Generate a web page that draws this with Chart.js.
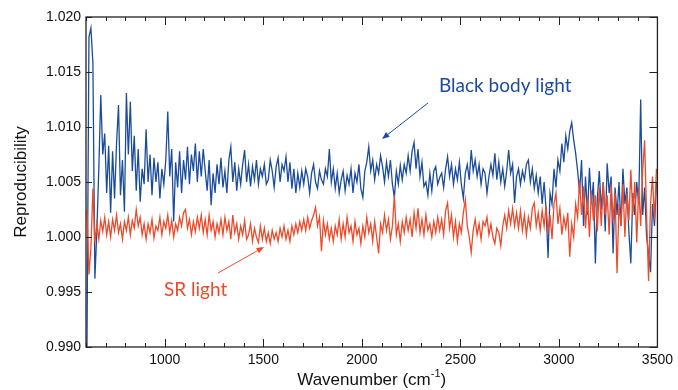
<!DOCTYPE html>
<html>
<head>
<meta charset="utf-8">
<script src="https://cdn.jsdelivr.net/npm/chart.js@4.4.1/dist/chart.umd.min.js"></script>
<style>
  html, body { margin: 0; padding: 0; background: #fff; }
  #chart { display: block; }
</style>
</head>
<body>
<canvas id="chart" width="678" height="390"></canvas>
<script>

// wavenumber axis (cm-1), one row per 100 cm-1
var wavenumber = [
	605,615,625,635,645,655,665,675,685,695,
	705,715,725,735,745,755,765,775,785,795,
	805,815,825,835,845,855,865,875,885,895,
	905,915,925,935,945,955,965,975,985,995,
	1005,1015,1025,1035,1045,1055,1065,1075,1085,1095,
	1105,1115,1125,1135,1145,1155,1165,1175,1185,1195,
	1205,1215,1225,1235,1245,1255,1265,1275,1285,1295,
	1305,1315,1325,1335,1345,1355,1365,1375,1385,1395,
	1405,1415,1425,1435,1445,1455,1465,1475,1485,1495,
	1505,1515,1525,1535,1545,1555,1565,1575,1585,1595,
	1605,1615,1625,1635,1645,1655,1665,1675,1685,1695,
	1705,1715,1725,1735,1745,1755,1765,1775,1785,1795,
	1805,1815,1825,1835,1845,1855,1865,1875,1885,1895,
	1905,1915,1925,1935,1945,1955,1965,1975,1985,1995,
	2005,2015,2025,2035,2045,2055,2065,2075,2085,2095,
	2105,2115,2125,2135,2145,2155,2165,2175,2185,2195,
	2205,2215,2225,2235,2245,2255,2265,2275,2285,2295,
	2305,2315,2325,2335,2345,2355,2365,2375,2385,2395,
	2405,2415,2425,2435,2445,2455,2465,2475,2485,2495,
	2505,2515,2525,2535,2545,2555,2565,2575,2585,2595,
	2605,2615,2625,2635,2645,2655,2665,2675,2685,2695,
	2705,2715,2725,2735,2745,2755,2765,2775,2785,2795,
	2805,2815,2825,2835,2845,2855,2865,2875,2885,2895,
	2905,2915,2925,2935,2945,2955,2965,2975,2985,2995,
	3005,3015,3025,3035,3045,3055,3065,3075,3085,3095,
	3105,3115,3125,3135,3145,3155,3165,3175,3185,3195,
	3205,3215,3225,3235,3245,3255,3265,3275,3285,3295,
	3305,3315,3325,3335,3345,3355,3365,3375,3385,3395,
	3405,3415,3425,3435,3445,3455,3465,3475,3485,3495
];

// Black body light
var blackBody = [
	0.9900,1.0182,1.0190,1.0158,0.9962,1.0005,1.0062,1.0129,1.0075,1.0094,
	1.0040,1.0083,1.0022,1.0078,1.0035,1.0085,1.0120,1.0038,1.0070,1.0023,
	1.0131,1.0075,1.0123,1.0060,1.0092,1.0042,1.0080,1.0032,1.0062,1.0048,
	1.0098,1.0050,1.0075,1.0038,1.0072,1.0050,1.0068,1.0035,1.0062,1.0048,
	1.0070,1.0114,1.0055,1.0080,1.0014,1.0068,1.0045,1.0078,1.0040,1.0070,
	1.0052,1.0082,1.0048,1.0075,1.0060,1.0085,1.0050,1.0078,1.0055,1.0080,
	1.0060,1.0042,1.0070,1.0029,1.0058,1.0040,1.0066,1.0048,1.0072,1.0045,
	1.0060,1.0040,1.0070,1.0082,1.0050,1.0068,1.0042,1.0062,1.0048,1.0066,
	1.0079,1.0050,1.0066,1.0046,1.0064,1.0052,1.0070,1.0048,1.0062,1.0055,
	1.0066,1.0048,1.0052,1.0070,1.0060,1.0045,1.0064,1.0072,1.0050,1.0066,
	1.0060,1.0073,1.0050,1.0068,1.0044,1.0062,1.0040,1.0058,1.0045,1.0060,
	1.0048,1.0062,1.0055,1.0040,1.0058,1.0066,1.0050,1.0044,1.0060,1.0052,
	1.0048,1.0062,1.0055,1.0080,1.0050,1.0062,1.0044,1.0058,1.0040,1.0052,
	1.0060,1.0042,1.0056,1.0048,1.0062,1.0040,1.0058,1.0050,1.0066,1.0044,
	1.0036,1.0060,1.0068,1.0082,1.0060,1.0070,1.0052,1.0066,1.0058,1.0074,
	1.0064,1.0050,1.0068,1.0055,1.0070,1.0048,1.0036,1.0060,1.0048,1.0065,
	1.0052,1.0066,1.0058,1.0074,1.0060,1.0078,1.0086,1.0062,1.0080,1.0055,
	1.0068,1.0046,1.0050,1.0038,1.0058,1.0042,1.0060,1.0064,1.0048,1.0054,
	1.0058,1.0045,1.0062,1.0073,1.0055,1.0066,1.0048,1.0062,1.0052,1.0068,
	1.0048,1.0035,1.0058,1.0066,1.0052,1.0079,1.0060,1.0070,1.0055,1.0066,
	1.0048,1.0062,1.0058,1.0040,1.0055,1.0066,1.0056,1.0076,1.0052,1.0068,
	1.0050,1.0062,1.0046,1.0060,1.0079,1.0058,1.0066,1.0031,1.0055,1.0062,
	1.0048,1.0060,1.0052,1.0066,1.0070,1.0050,1.0062,1.0044,1.0056,1.0040,
	1.0055,1.0030,1.0050,1.0025,0.9981,1.0040,1.0030,1.0062,1.0045,1.0070,
	1.0060,1.0085,1.0068,1.0092,1.0080,1.0096,1.0104,1.0088,1.0076,1.0060,
	1.0040,1.0070,1.0010,1.0055,1.0020,1.0063,1.0030,1.0050,0.9976,1.0035,
	1.0060,1.0025,1.0050,1.0005,1.0067,1.0040,1.0055,0.9985,1.0045,1.0020,
	1.0050,1.0010,1.0062,1.0030,1.0045,1.0005,0.9976,1.0040,1.0020,1.0050,
	1.0030,1.0125,1.0020,1.0045,1.0000,0.9985,0.9968,1.0030,1.0010,1.0050
];

// SR light
var srLight = [
	1.0025,0.9966,0.9990,1.0044,0.9995,1.0012,0.9998,1.0015,1.0005,1.0018,
	1.0002,1.0014,1.0000,1.0016,1.0006,1.0020,1.0004,1.0012,0.9998,1.0014,
	1.0006,1.0018,1.0002,1.0015,1.0008,1.0025,1.0010,1.0018,1.0002,1.0012,
	0.9998,1.0012,1.0004,1.0016,0.9999,1.0010,1.0006,1.0018,1.0002,1.0014,
	1.0008,1.0020,1.0004,1.0015,1.0000,1.0012,1.0006,1.0018,1.0010,1.0022,
	1.0025,1.0008,1.0016,1.0002,1.0014,1.0005,1.0018,1.0008,1.0020,1.0004,
	1.0016,1.0002,1.0020,1.0006,1.0014,1.0000,1.0012,1.0004,1.0016,1.0002,
	1.0018,1.0006,1.0014,0.9998,1.0020,1.0004,1.0012,0.9998,1.0010,1.0002,
	1.0015,0.9998,1.0002,1.0012,0.9996,1.0008,1.0000,0.9995,1.0010,0.9998,
	1.0008,0.9996,1.0004,0.9994,1.0006,0.9998,1.0004,0.9996,1.0008,1.0000,
	1.0010,0.9998,1.0006,0.9996,1.0010,1.0002,1.0012,1.0004,1.0014,1.0006,
	1.0016,1.0006,1.0018,1.0008,1.0015,1.0020,1.0027,1.0010,1.0018,0.9987,
	1.0015,1.0002,1.0012,0.9998,1.0008,0.9996,1.0010,1.0002,1.0016,0.9998,
	1.0012,1.0000,1.0018,1.0004,1.0010,0.9996,1.0014,1.0002,1.0008,0.9994,
	1.0010,1.0000,1.0018,1.0004,1.0012,0.9996,1.0014,1.0000,0.9985,1.0012,
	1.0004,1.0020,1.0006,1.0016,0.9998,1.0010,1.0038,1.0002,1.0012,0.9996,
	1.0014,1.0004,1.0018,1.0006,1.0016,1.0000,1.0022,1.0008,1.0026,1.0004,
	1.0016,1.0002,1.0020,1.0006,1.0012,1.0000,1.0014,1.0004,1.0018,1.0006,
	1.0016,1.0002,1.0024,1.0031,1.0008,1.0020,1.0000,1.0014,0.9996,1.0012,
	1.0004,1.0022,1.0034,1.0010,1.0000,0.9986,1.0006,1.0016,1.0002,1.0012,
	0.9998,1.0014,1.0010,1.0018,1.0002,1.0012,1.0000,0.9994,1.0008,1.0004,
	0.9992,1.0010,1.0020,1.0008,1.0024,1.0012,1.0026,1.0010,1.0022,1.0008,
	1.0024,1.0006,1.0020,1.0002,1.0018,1.0008,1.0026,1.0031,1.0010,1.0022,
	1.0006,1.0024,1.0010,1.0028,1.0004,1.0020,0.9998,1.0030,1.0040,1.0012,
	1.0026,1.0002,1.0018,1.0008,1.0022,0.9982,1.0012,1.0000,1.0030,1.0018,
	1.0052,1.0020,1.0046,1.0008,1.0035,1.0000,1.0042,1.0015,1.0038,1.0005,
	1.0045,1.0010,1.0050,1.0020,1.0038,1.0002,1.0048,1.0015,1.0040,0.9967,
	1.0030,1.0010,1.0048,1.0000,1.0040,1.0015,1.0061,1.0020,1.0050,0.9995,
	1.0045,1.0010,1.0060,1.0088,1.0020,0.9960,1.0030,1.0055,1.0015,1.0062
];

var yTicks = [0.990, 0.995, 1.000, 1.005, 1.010, 1.015, 1.020];

var blueColour = '#1b4c9c';
var redColour = '#ee4a2a';

function toPoints(values) {
	return values.map(function(v, i) { return {x: wavenumber[i], y: v}; });
}

function drawArrow(ctx, x1, y1, x2, y2, colour) {
	var ang = Math.atan2(y2 - y1, x2 - x1);
	var head = 8;
	ctx.strokeStyle = colour;
	ctx.fillStyle = colour;
	ctx.lineWidth = 1;
	ctx.beginPath();
	ctx.moveTo(x1, y1);
	ctx.lineTo(x2 - Math.cos(ang) * head * 0.8, y2 - Math.sin(ang) * head * 0.8);
	ctx.stroke();
	ctx.beginPath();
	ctx.moveTo(x2, y2);
	ctx.lineTo(x2 - head * Math.cos(ang - 0.38), y2 - head * Math.sin(ang - 0.38));
	ctx.lineTo(x2 - head * Math.cos(ang + 0.38), y2 - head * Math.sin(ang + 0.38));
	ctx.closePath();
	ctx.fill();
}

// frame with inward ticks, x title with superscript, annotations
var framePlugin = {
	id: 'framePlugin',
	afterDatasetsDraw: function(chart) {
		var ctx = chart.ctx;
		var a = chart.chartArea;
		var xs = chart.scales.x;
		var ys = chart.scales.y;
		ctx.save();

		ctx.strokeStyle = '#222';
		ctx.lineWidth = 1.3;
		ctx.strokeRect(a.left, a.top, a.right - a.left, a.bottom - a.top);

		ctx.lineWidth = 1;
		ctx.beginPath();
		xs.ticks.forEach(function(t) {
			var px = Math.round(xs.getPixelForValue(t.value)) + 0.5;
			var len = (t.value % 500 === 0) ? 8 : 4;
			ctx.moveTo(px, a.bottom);
			ctx.lineTo(px, a.bottom - len);
			ctx.moveTo(px, a.top);
			ctx.lineTo(px, a.top + len);
		});
		ys.ticks.forEach(function(t) {
			var py = Math.round(ys.getPixelForValue(t.value)) + 0.5;
			ctx.moveTo(a.left, py);
			ctx.lineTo(a.left + 6, py);
			ctx.moveTo(a.right, py);
			ctx.lineTo(a.right - 8, py);
		});
		ctx.stroke();

		// x axis title
		ctx.fillStyle = '#111';
		ctx.textBaseline = 'alphabetic';
		ctx.textAlign = 'left';
		var big = '17px "Liberation Sans", Arial, sans-serif';
		var small = '11px "Liberation Sans", Arial, sans-serif';
		ctx.font = big;
		var w1 = ctx.measureText('Wavenumber (cm').width;
		var w3 = ctx.measureText(')').width;
		ctx.font = small;
		var w2 = ctx.measureText('-1').width;
		var startX = (a.left + a.right) / 2 - (w1 + w2 + w3) / 2;
		ctx.font = big;
		ctx.fillText('Wavenumber (cm', startX, 385);
		ctx.font = small;
		ctx.fillText('-1', startX + w1, 377);
		ctx.font = big;
		ctx.fillText(')', startX + w1 + w2, 385);

		// annotations
		ctx.textBaseline = 'middle';
		ctx.font = '19px Lato, "Open Sans", sans-serif';
		ctx.fillStyle = blueColour;
		ctx.fillText('Black body light', 439, 86);
		drawArrow(ctx, 428, 103, 382, 139, blueColour);

		ctx.fillStyle = redColour;
		ctx.fillText('SR light', 164, 290);
		drawArrow(ctx, 218, 273, 264, 247, redColour);

		ctx.restore();
	}
};

var data1 = {
	datasets: [{
		label: 'Black body light',
		data: toPoints(blackBody),
		borderColor: blueColour,
		borderWidth: 1.3,
		pointRadius: 0,
		order: 2
	}, {
		label: 'SR light',
		data: toPoints(srLight),
		borderColor: redColour,
		borderWidth: 1.3,
		pointRadius: 0,
		order: 1
	}]
};

var options1 = {
	responsive: false,
	animation: false,
	devicePixelRatio: 1,
	layout: {
		padding: { left: 0, right: 16, top: 17, bottom: 0 }
	},
	plugins: {
		legend: { display: false },
		tooltip: { enabled: false }
	},
	scales: {
		x: {
			type: 'linear',
			min: 600,
			max: 3500,
			afterFit: function(s) { s.height = 43; },
			grid: { display: false, drawTicks: false },
			border: { display: false },
			ticks: {
				stepSize: 100,
				autoSkip: false,
				maxRotation: 0,
				padding: 5,
				color: '#111',
				font: { family: '"Liberation Sans", Arial, sans-serif', size: 14 },
				callback: function(v) { return v % 500 === 0 ? String(v) : ''; }
			}
		},
		y: {
			type: 'linear',
			min: 0.990,
			max: 1.020,
			afterFit: function(s) { s.width = 86; },
			afterBuildTicks: function(s) {
				s.ticks = yTicks.map(function(v) { return {value: v}; });
			},
			grid: { display: false, drawTicks: false },
			border: { display: false },
			ticks: {
				padding: 5,
				color: '#111',
				font: { family: '"Liberation Sans", Arial, sans-serif', size: 14 },
				callback: function(v) { return Number(v).toFixed(3); }
			},
			title: {
				display: true,
				text: 'Reproducibility',
				color: '#111',
				padding: { top: 11, bottom: 0 },
				font: { family: '"Liberation Sans", Arial, sans-serif', size: 17 }
			}
		}
	}
};

var graph = new Chart('chart', {
	type: 'line',
	data: data1,
	options: options1,
	plugins: [framePlugin]
});

</script>
</body>
</html>
